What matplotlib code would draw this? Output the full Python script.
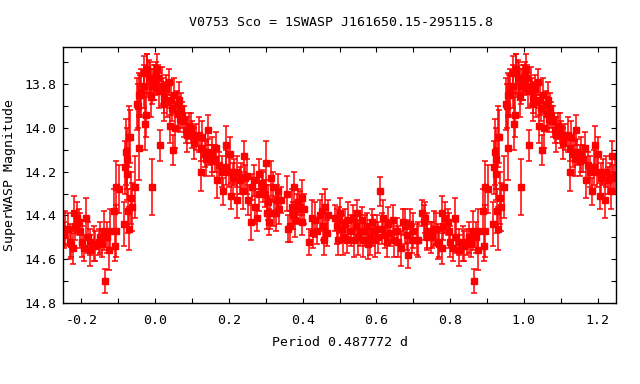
import matplotlib
matplotlib.use('Agg')
import matplotlib.pyplot as plt
import numpy as np
from matplotlib.ticker import MultipleLocator

# phase-folded light curve, phase in [0, 1)
phase = [
    0.000, 0.003, 0.005, 0.008, 0.011, 0.014, 0.019, 0.022, 0.025, 0.025,
    0.030, 0.033, 0.038, 0.041, 0.044, 0.046, 0.049, 0.052, 0.054, 0.060,
    0.063, 0.065, 0.068, 0.071, 0.074, 0.079, 0.084, 0.087, 0.093, 0.098,
    0.101, 0.106, 0.112, 0.120, 0.125, 0.125, 0.128, 0.134, 0.139, 0.142,
    0.144, 0.153, 0.155, 0.161, 0.166, 0.169, 0.174, 0.180, 0.185, 0.191,
    0.193, 0.199, 0.202, 0.207, 0.210, 0.215, 0.221, 0.223, 0.229, 0.234,
    0.237, 0.240, 0.243, 0.248,
    0.251, 0.259, 0.264, 0.267, 0.272, 0.275, 0.281, 0.283, 0.289, 0.292,
    0.297, 0.300, 0.302, 0.305, 0.308, 0.311, 0.313, 0.319, 0.322, 0.327,
    0.330, 0.332, 0.335, 0.341, 0.357, 0.360, 0.365, 0.371, 0.373, 0.376,
    0.379, 0.384, 0.387, 0.392, 0.398, 0.398, 0.403, 0.417, 0.425, 0.428,
    0.433, 0.439, 0.447, 0.452, 0.455, 0.458, 0.460, 0.466, 0.469, 0.488,
    0.493, 0.496, 0.499,
    0.501, 0.507, 0.510, 0.515, 0.520, 0.523, 0.531, 0.537, 0.540, 0.545,
    0.548, 0.550, 0.556, 0.561, 0.564, 0.569, 0.575, 0.578, 0.583, 0.589,
    0.591, 0.597, 0.602, 0.605, 0.610, 0.616, 0.619, 0.624, 0.629, 0.632,
    0.638, 0.646, 0.649, 0.657, 0.659, 0.668, 0.673, 0.678, 0.684, 0.687,
    0.692, 0.698, 0.700, 0.711, 0.714, 0.725, 0.728, 0.733, 0.736, 0.738,
    0.747,
    0.752, 0.755, 0.763, 0.768, 0.771, 0.777, 0.779, 0.782, 0.787, 0.793,
    0.796, 0.801, 0.807, 0.812, 0.817, 0.823, 0.823, 0.834, 0.837, 0.847,
    0.850, 0.856, 0.861, 0.864, 0.869, 0.875, 0.877, 0.888, 0.891, 0.894,
    0.894, 0.902, 0.916, 0.918, 0.921, 0.924, 0.924, 0.926, 0.929, 0.929,
    0.932, 0.935, 0.937, 0.946, 0.951, 0.953, 0.956, 0.956, 0.959, 0.962,
    0.970, 0.970, 0.973, 0.975, 0.978, 0.978, 0.984, 0.986, 0.989, 0.992,
    0.992, 0.997, 0.997,
]
mag = [
    13.78, 13.76, 13.73, 13.77, 13.83, 14.08, 13.81, 13.83, 13.86, 13.89,
    13.82, 13.88, 13.79, 13.99, 13.87, 13.91, 14.10, 13.85, 14.00, 13.89,
    13.93, 13.87, 13.96, 13.91, 13.94, 13.97, 14.01, 14.03, 13.99, 14.00,
    14.03, 14.07, 14.04, 14.03, 14.09, 14.20, 14.04, 14.12, 14.14, 14.01,
    14.11, 14.15, 14.12, 14.14, 14.09, 14.24, 14.17, 14.20, 14.29, 14.18,
    14.08, 14.20, 14.12, 14.31, 14.23, 14.20, 14.33, 14.20, 14.24, 14.23,
    14.29, 14.13, 14.23, 14.22,
    14.33, 14.43, 14.27, 14.24, 14.36, 14.41, 14.21, 14.30, 14.25, 14.27,
    14.30, 14.16, 14.39, 14.34, 14.43, 14.39, 14.23, 14.27, 14.39, 14.39,
    14.33, 14.29, 14.37, 14.33, 14.30, 14.46, 14.45, 14.36, 14.40, 14.27,
    14.42, 14.37, 14.34, 14.36, 14.32, 14.43, 14.37, 14.52, 14.41, 14.48,
    14.42, 14.47, 14.40, 14.38, 14.45, 14.51, 14.36, 14.48, 14.40, 14.41,
    14.45, 14.51, 14.42,
    14.39, 14.46, 14.50, 14.44, 14.51, 14.42, 14.47, 14.41, 14.51, 14.45,
    14.39, 14.50, 14.47, 14.42, 14.51, 14.47, 14.45, 14.53, 14.50, 14.43,
    14.47, 14.51, 14.46, 14.50, 14.29, 14.46, 14.41, 14.49, 14.52, 14.44,
    14.48, 14.42, 14.51, 14.47, 14.52, 14.55, 14.43, 14.45, 14.49, 14.58,
    14.44, 14.51, 14.47, 14.51, 14.51, 14.39, 14.43, 14.41, 14.50, 14.47,
    14.50,
    14.49, 14.46, 14.46, 14.52, 14.53, 14.55, 14.39, 14.45, 14.41, 14.43,
    14.47, 14.52, 14.55, 14.41, 14.50, 14.52, 14.56, 14.53, 14.54, 14.52,
    14.50, 14.53, 14.47, 14.70, 14.50, 14.56, 14.47, 14.38, 14.54, 14.47,
    14.27, 14.28, 14.44, 14.18, 14.11, 14.14, 14.21, 14.38, 14.46, 14.04,
    14.04, 14.32, 14.36, 14.27, 13.89, 13.90, 13.85, 14.09, 13.85, 13.84,
    13.81, 13.75, 13.98, 13.94, 13.75, 13.73, 13.77, 13.77, 13.86, 14.27,
    13.81, 13.80, 13.79,
]
err = [
    0.07, 0.06, 0.07, 0.06, 0.08, 0.07, 0.09, 0.06, 0.07, 0.08,
    0.06, 0.07, 0.06, 0.08, 0.07, 0.06, 0.07, 0.08, 0.09, 0.06,
    0.07, 0.08, 0.06, 0.07, 0.06, 0.07, 0.06, 0.08, 0.06, 0.07,
    0.06, 0.07, 0.06, 0.08, 0.06, 0.09, 0.07, 0.06, 0.08, 0.07,
    0.06, 0.07, 0.08, 0.06, 0.07, 0.08, 0.06, 0.07, 0.06, 0.08,
    0.09, 0.07, 0.08, 0.06, 0.07, 0.06, 0.08, 0.07, 0.06, 0.07,
    0.08, 0.07, 0.06, 0.08,
    0.07, 0.08, 0.06, 0.07, 0.08, 0.06, 0.07, 0.08, 0.06, 0.07,
    0.06, 0.10, 0.07, 0.08, 0.06, 0.07, 0.08, 0.07, 0.06, 0.08,
    0.07, 0.08, 0.07, 0.06, 0.08, 0.06, 0.07, 0.08, 0.06, 0.07,
    0.08, 0.07, 0.06, 0.07, 0.08, 0.06, 0.07, 0.06, 0.08, 0.07,
    0.08, 0.06, 0.07, 0.08, 0.06, 0.07, 0.08, 0.06, 0.07, 0.06,
    0.08, 0.07, 0.06,
    0.07, 0.06, 0.08, 0.07, 0.06, 0.08, 0.07, 0.06, 0.08, 0.07,
    0.06, 0.08, 0.07, 0.06, 0.08, 0.07, 0.06, 0.07, 0.08, 0.06,
    0.07, 0.08, 0.06, 0.07, 0.065, 0.07, 0.08, 0.06, 0.07, 0.08,
    0.06, 0.07, 0.08, 0.06, 0.07, 0.08, 0.06, 0.08, 0.07, 0.06,
    0.07, 0.06, 0.08, 0.07, 0.08, 0.06, 0.08, 0.07, 0.06, 0.08,
    0.07,
    0.06, 0.08, 0.07, 0.08, 0.06, 0.07, 0.08, 0.06, 0.07, 0.06,
    0.08, 0.07, 0.06, 0.09, 0.07, 0.06, 0.07, 0.08, 0.07, 0.06,
    0.07, 0.06, 0.09, 0.055, 0.07, 0.09, 0.10, 0.10, 0.07, 0.12,
    0.12, 0.11, 0.10, 0.12, 0.15, 0.14, 0.12, 0.10, 0.10, 0.14,
    0.12, 0.12, 0.11, 0.14, 0.12, 0.10, 0.10, 0.15, 0.09, 0.11,
    0.10, 0.08, 0.12, 0.10, 0.09, 0.07, 0.08, 0.07, 0.09, 0.13,
    0.08, 0.07, 0.08,
]

title = "V0753 Sco = 1SWASP J161650.15-295115.8"
xlabel = "Period 0.487772 d"
ylabel = "SuperWASP Magnitude"

# repeat the fold over -0.25 .. 1.25
p = np.array(phase)
m = np.array(mag)
e = np.array(err)
lo = p >= 0.75
hi = p < 0.25
px = np.concatenate([p - 1, p, p + 1])
mx = np.concatenate([m, m, m])
ex = np.concatenate([e, e, e])
keep = np.concatenate([lo, np.ones_like(lo), hi])

plt.rcParams['font.family'] = ['DejaVu Sans Mono']
plt.rcParams['font.size'] = 9.5

fig = plt.figure(figsize=(6.4, 3.84), dpi=100)
ax = fig.add_axes([63 / 640, 1 - 303 / 384, (616 - 63) / 640, (303 - 47) / 384])

ax.errorbar(px[keep], mx[keep], yerr=ex[keep], fmt='s', color='#ff0000',
            ms=4.3, elinewidth=1.1, capsize=2.2, capthick=1.1)

ax.set_xlim(-0.25, 1.25)
ax.set_ylim(14.8, 13.63)
ax.xaxis.set_major_locator(MultipleLocator(0.2))
ax.xaxis.set_minor_locator(MultipleLocator(0.1))
ax.yaxis.set_major_locator(MultipleLocator(0.2))
ax.yaxis.set_minor_locator(MultipleLocator(0.1))
ax.xaxis.set_major_formatter(plt.FormatStrFormatter('%.1f'))
ax.yaxis.set_major_formatter(plt.FormatStrFormatter('%.1f'))
ax.tick_params(which='both', direction='in', top=True, right=True,
               length=3.5, width=0.8)
ax.tick_params(axis='x', pad=8)
ax.tick_params(axis='y', pad=5)
for s in ax.spines.values():
    s.set_linewidth(1.0)

fig.text(341 / 640, 1 - 22 / 384, title, ha='center', va='center')
fig.text(340 / 640, 1 - 343 / 384, xlabel, ha='center', va='center')
fig.text(10 / 640, 1 - 175 / 384, ylabel, ha='center', va='center',
         rotation=90)

fig.savefig('out.png', dpi=100)
